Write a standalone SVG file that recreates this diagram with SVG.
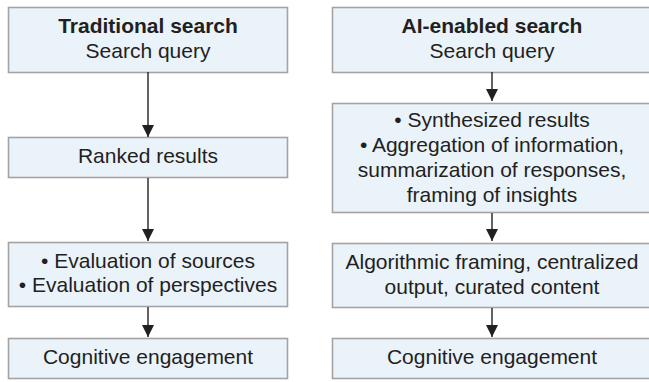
<svg xmlns="http://www.w3.org/2000/svg" width="649" height="382" viewBox="0 0 649 382">
  <style>
    .box { fill: #eaf2fa; stroke: #a3a3a3; stroke-width: 1.6; }
    .t { font-family: "Liberation Sans", Arial, sans-serif; font-size: 21px; fill: #231f20; text-anchor: middle; }
    .b { font-weight: bold; }
    .edge { stroke: #231f20; stroke-width: 1.4; fill: none; marker-end: url(#arrow); }
  </style>
  <defs>
    <marker id="arrow" markerUnits="userSpaceOnUse" markerWidth="12" markerHeight="12" refX="12" refY="6" orient="auto">
      <path d="M0,0 L12,6 L0,12 z" fill="#231f20"/>
    </marker>
  </defs>
  <rect width="649" height="382" fill="#ffffff"/>

  <!-- Traditional search column -->
  <g id="trad-query">
    <rect class="box" x="8.5" y="7.5" width="279" height="65"/>
    <text class="t b" x="148" y="33">Traditional search</text>
    <text class="t" x="148" y="58">Search query</text>
  </g>
  <g id="trad-ranked">
    <rect class="box" x="8.5" y="137.5" width="279" height="40"/>
    <text class="t" x="148" y="162.5">Ranked results</text>
  </g>
  <g id="trad-evaluation">
    <rect class="box" x="8.5" y="242.5" width="279" height="64"/>
    <text class="t" x="148" y="267.5">• Evaluation of sources</text>
    <text class="t" x="148" y="292">• Evaluation of perspectives</text>
  </g>
  <g id="trad-engagement">
    <rect class="box" x="8.5" y="338.5" width="279" height="40"/>
    <text class="t" x="148" y="364">Cognitive engagement</text>
  </g>

  <!-- AI-enabled search column -->
  <g id="ai-query">
    <rect class="box" x="332.5" y="7.5" width="320" height="65"/>
    <text class="t b" x="492" y="33">AI-enabled search</text>
    <text class="t" x="492" y="58">Search query</text>
  </g>
  <g id="ai-synthesized">
    <rect class="box" x="332.5" y="103.5" width="320" height="109"/>
    <text class="t" x="492" y="126.5">• Synthesized results</text>
    <text class="t" x="492" y="151.5">• Aggregation of information,</text>
    <text class="t" x="492" y="176.5">summarization of responses,</text>
    <text class="t" x="492" y="201.5">framing of insights</text>
  </g>
  <g id="ai-framing">
    <rect class="box" x="332.5" y="243.5" width="320" height="64"/>
    <text class="t" x="492" y="268.5">Algorithmic framing, centralized</text>
    <text class="t" x="492" y="293.5">output, curated content</text>
  </g>
  <g id="ai-engagement">
    <rect class="box" x="332.5" y="338.5" width="320" height="40"/>
    <text class="t" x="492" y="364">Cognitive engagement</text>
  </g>

  <!-- connectors -->
  <g id="connectors">
    <line class="edge" x1="148" y1="72" x2="148" y2="137"/>
    <line class="edge" x1="148" y1="178" x2="148" y2="241"/>
    <line class="edge" x1="148" y1="307" x2="148" y2="337"/>
    <line class="edge" x1="492" y1="72" x2="492" y2="101"/>
    <line class="edge" x1="492" y1="213" x2="492" y2="241"/>
    <line class="edge" x1="492" y1="308" x2="492" y2="337"/>
  </g>
</svg>
